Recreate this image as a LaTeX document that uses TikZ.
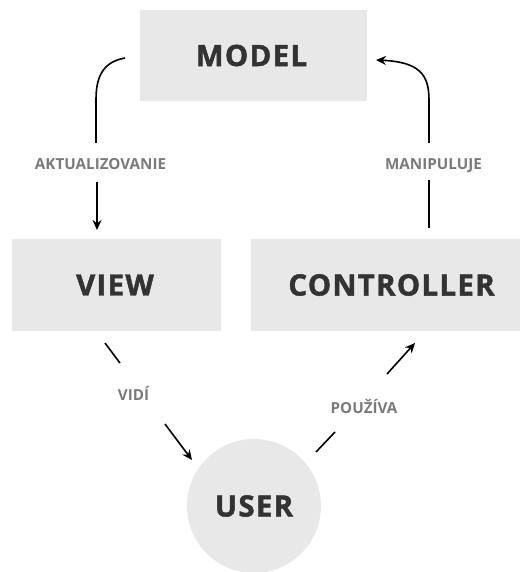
\documentclass[tikz,border=0pt]{standalone}
\usepackage{fontspec}
\setmainfont{Open Sans}
\newfontfamily\boxfont[LetterSpace=4.5, BoldFeatures={FakeBold=1.6}]{Open Sans}
\usetikzlibrary{arrows.meta}
\definecolor{boxfill}{HTML}{E8E8E8}
\definecolor{boxtext}{HTML}{333333}
\definecolor{labeltext}{HTML}{7A7A7A}
\tikzset{
  box/.style={rectangle, fill=boxfill, inner sep=0pt, font=\boxfont\fontsize{29.4}{31}\selectfont\bfseries, text=boxtext},
  ucircle/.style={circle, fill=boxfill, inner sep=0pt, minimum size=134pt, font=\boxfont\fontsize{29.4}{31}\selectfont\bfseries, text=boxtext},
  lbl/.style={font=\fontsize{15.2}{17}\selectfont\bfseries, text=labeltext, inner sep=0pt, anchor=base},
  conn/.style={line width=1.6pt, black},
  arr/.style={conn, -{Stealth[length=10pt, width=9pt]}}
}
\begin{document}
\begin{tikzpicture}[x=1pt, y=-1pt]
\useasboundingbox (0,0) rectangle (520,572);
\node[box, minimum width=227pt, minimum height=91pt] (model) at (253.5,55.5) {MODEL\hspace*{4pt}};
\node[box, minimum width=209pt, minimum height=92pt] (view) at (116.5,285) {VIEW\hspace*{3pt}};
\node[box, minimum width=269pt, minimum height=92pt] (ctrl) at (385.5,285) {\hspace*{12pt}CONTROLLER};
\node[ucircle] (user) at (254,506) {USER};

\node[lbl] (lakt) at (100.5,169) {AKTUALIZOVANIE};
\node[lbl] (lman) at (433.5,169) {MANIPULUJE};
\node[lbl] (lvid) at (133.5,400) {VIDÍ};
\node[lbl] (lpou) at (364,413) {POUŽÍVA};

% model -> view
\coordinate (a1) at (125,58);
\coordinate (a2) at (96,143);
\coordinate (a3) at (97,182);
\coordinate (a4) at (97,230);
\draw[conn] (a1) .. controls (102,62) and (96,78) .. (96,100) -- (a2);
\draw[arr] (a3) -- (a4);

% controller -> model
\coordinate (b1) at (429,228);
\coordinate (b2) at (429,180);
\coordinate (b3) at (429,143);
\coordinate (b4) at (376,60);
\draw[conn] (b1) -- (b2);
\draw[arr] (b3) -- (429,100) .. controls (429,75) and (420,62) .. (b4);

% view -> user
\coordinate (c1) at (105,343);
\coordinate (c2) at (120,363);
\coordinate (c3) at (165,424);
\coordinate (c4) at (192,460);
\draw[conn] (c1) -- (c2);
\draw[arr] (c3) -- (c4);

% user -> controller
\coordinate (d1) at (316,452);
\coordinate (d2) at (335,432);
\coordinate (d3) at (387,374);
\coordinate (d4) at (415,343);
\draw[conn] (d1) -- (d2);
\draw[arr] (d3) -- (d4);
\end{tikzpicture}
\end{document}
